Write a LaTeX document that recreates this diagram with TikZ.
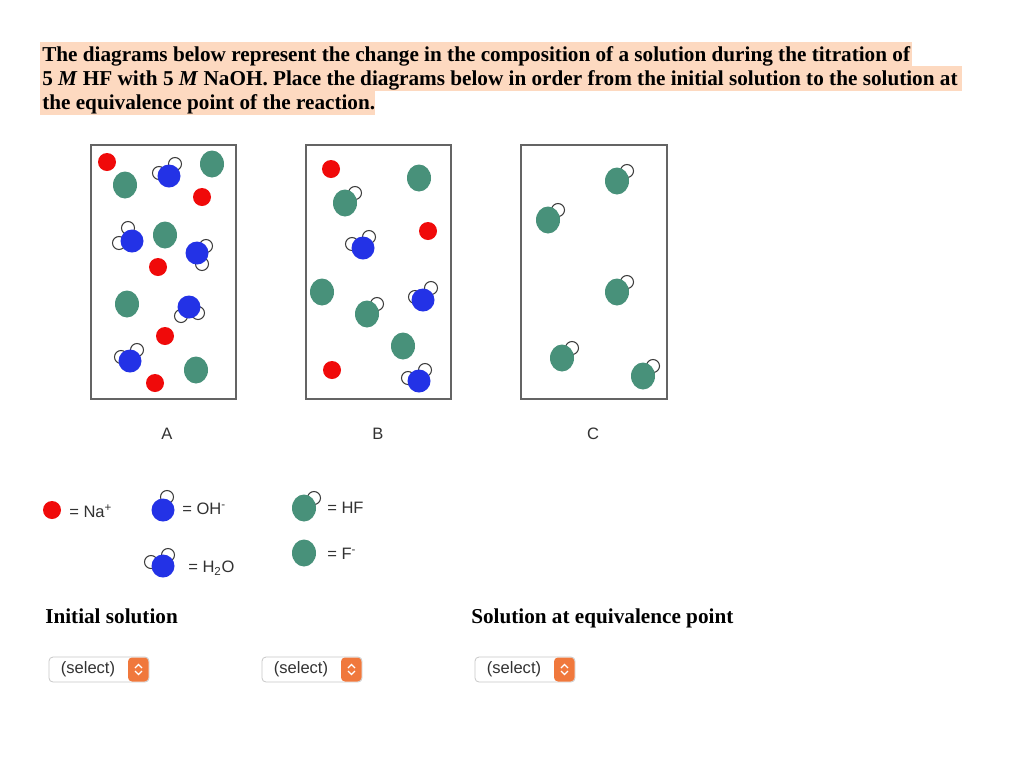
\documentclass[tikz,border=0pt]{standalone}
\usepackage{fontspec}
\setmainfont{Liberation Serif}
\setsansfont{Liberation Sans}
\begin{document}
\begin{tikzpicture}[x=0.75pt,y=-0.75pt,
  na/.style={fill={rgb,255:red,240;green,10;blue,10},draw=none},
  grn/.style={fill={rgb,255:red,72;green,145;blue,122},draw=none},
  blu/.style={fill={rgb,255:red,35;green,50;blue,230},draw=none},
  hat/.style={draw={rgb,255:red,60;green,60;blue,60},line width=0.8pt,fill=white},
  frame/.style={draw={rgb,255:red,100;green,100;blue,100},line width=1pt,fill=white},
  lbl/.style={font=\sffamily\fontsize{12.4}{14}\selectfont,text={rgb,255:red,50;green,50;blue,50},inner sep=0pt,anchor=west},
  ttl/.style={font=\bfseries\fontsize{15.9}{18}\selectfont,inner sep=0pt,anchor=base west},
  sel/.style={draw={rgb,255:red,200;green,200;blue,200},fill=white,rounded corners=3pt,line width=0.6pt},
  btn/.style={fill={rgb,255:red,240;green,120;blue,60},rounded corners=3pt}]
\useasboundingbox (0,0) rectangle (1024,772);
\fill[white] (0,0) rectangle (1024,772);
\definecolor{hl}{RGB}{253,217,192}
% title
\fill[hl] (40,42) rectangle (912,66);
\fill[hl] (40,66) rectangle (962,91);
\fill[hl] (40,91) rectangle (375,115);
\node[ttl] (t1) at (42,61) {The diagrams below represent the change in the composition of a solution during the titration of};
\node[ttl] (t2) at (42,85) {5 \textit{M} HF with 5 \textit{M} NaOH. Place the diagrams below in order from the initial solution to the solution at};
\node[ttl] (t3) at (42,109) {the equivalence point of the reaction.};
% boxes
\draw[frame] (91,145) rectangle (236,399);
\draw[frame] (306,145) rectangle (451,399);
\draw[frame] (521,145) rectangle (667,399);
\newcommand\Na[2]{\fill[na] (#1,#2) circle (9);}
\newcommand\Fm[2]{\fill[grn] (#1,#2) ellipse (12 and 13.5);}
\newcommand\HF[2]{\draw[hat] (#1+10,#2-10) circle (6.5); \fill[grn] (#1,#2) ellipse (12 and 13.5);}
\newcommand\Wat[6]{\draw[hat] (#1+#3,#2+#4) circle (6.5); \draw[hat] (#1+#5,#2+#6) circle (6.5); \fill[blu] (#1,#2) circle (11.5);}
\newcommand\OH[4]{\draw[hat] (#1+#3,#2+#4) circle (6.5); \fill[blu] (#1,#2) circle (11.5);}
% A
\Na{107}{162}\Fm{125}{185}\Wat{169}{176}{6}{-12}{-10}{-3}\Fm{212}{164}\Na{202}{197}
\Wat{132}{241}{-4}{-13}{-13}{2}\Fm{165}{235}\Wat{197}{253}{9}{-7}{5}{11}\Na{158}{267}
\Fm{127}{304}\Wat{189}{307}{-8}{9}{9}{6}\Na{165}{336}\Wat{130}{361}{7}{-11}{-9}{-4}
\Fm{196}{370}\Na{155}{383}
% B
\Na{331}{169}\Fm{419}{178}\HF{345}{203}\Na{428}{231}\Wat{363}{248}{6}{-11}{-11}{-4}
\Fm{322}{292}\Wat{423}{300}{8}{-12}{-8}{-3}\HF{367}{314}\Fm{403}{346}\Na{332}{370}
\Wat{419}{381}{6}{-11}{-11}{-3}
% C
\HF{617}{181}\HF{548}{220}\HF{617}{292}\HF{562}{358}\HF{643}{376}
% labels
\node[lbl,anchor=center] (la) at (167,434) {A};
\node[lbl,anchor=center] (lb) at (378,434) {B};
\node[lbl,anchor=center] (lc) at (593,434) {C};
% legend
\Na{52}{510}\node[lbl] (k1) at (69,511) {= Na\textsuperscript{+}};
\OH{163}{510}{4}{-13}\node[lbl] (k2) at (182,509) {= OH\textsuperscript{-}};
\HF{304}{508}\node[lbl] (k3) at (327,508) {= HF};
\Wat{163}{566}{5}{-11}{-12}{-4}\node[lbl] (k4) at (188,568) {= H\textsubscript{2}O};
\Fm{304}{553}\node[lbl] (k5) at (327,554) {= F\textsuperscript{-}};
% bottom
\node[ttl] (is) at (45,623) {Initial solution};
\node[ttl] (es) at (471,623) {Solution at equivalence point};
\foreach \x/\n in {49/s1,262/s2,475/s3}{
  \draw[sel] (\x,657) rectangle (\x+100,682);
  \fill[btn] (\x+79,657.5) rectangle (\x+99.5,681.5);
  \draw[white,line width=0.9pt] (\x+86,668) -- (\x+89.5,664.5) -- (\x+93,668);
  \draw[white,line width=0.9pt] (\x+86,671) -- (\x+89.5,674.5) -- (\x+93,671);
  \node[lbl,anchor=center] (\n) at (\x+39,669.5) {(select)};
}
\end{tikzpicture}
\end{document}
